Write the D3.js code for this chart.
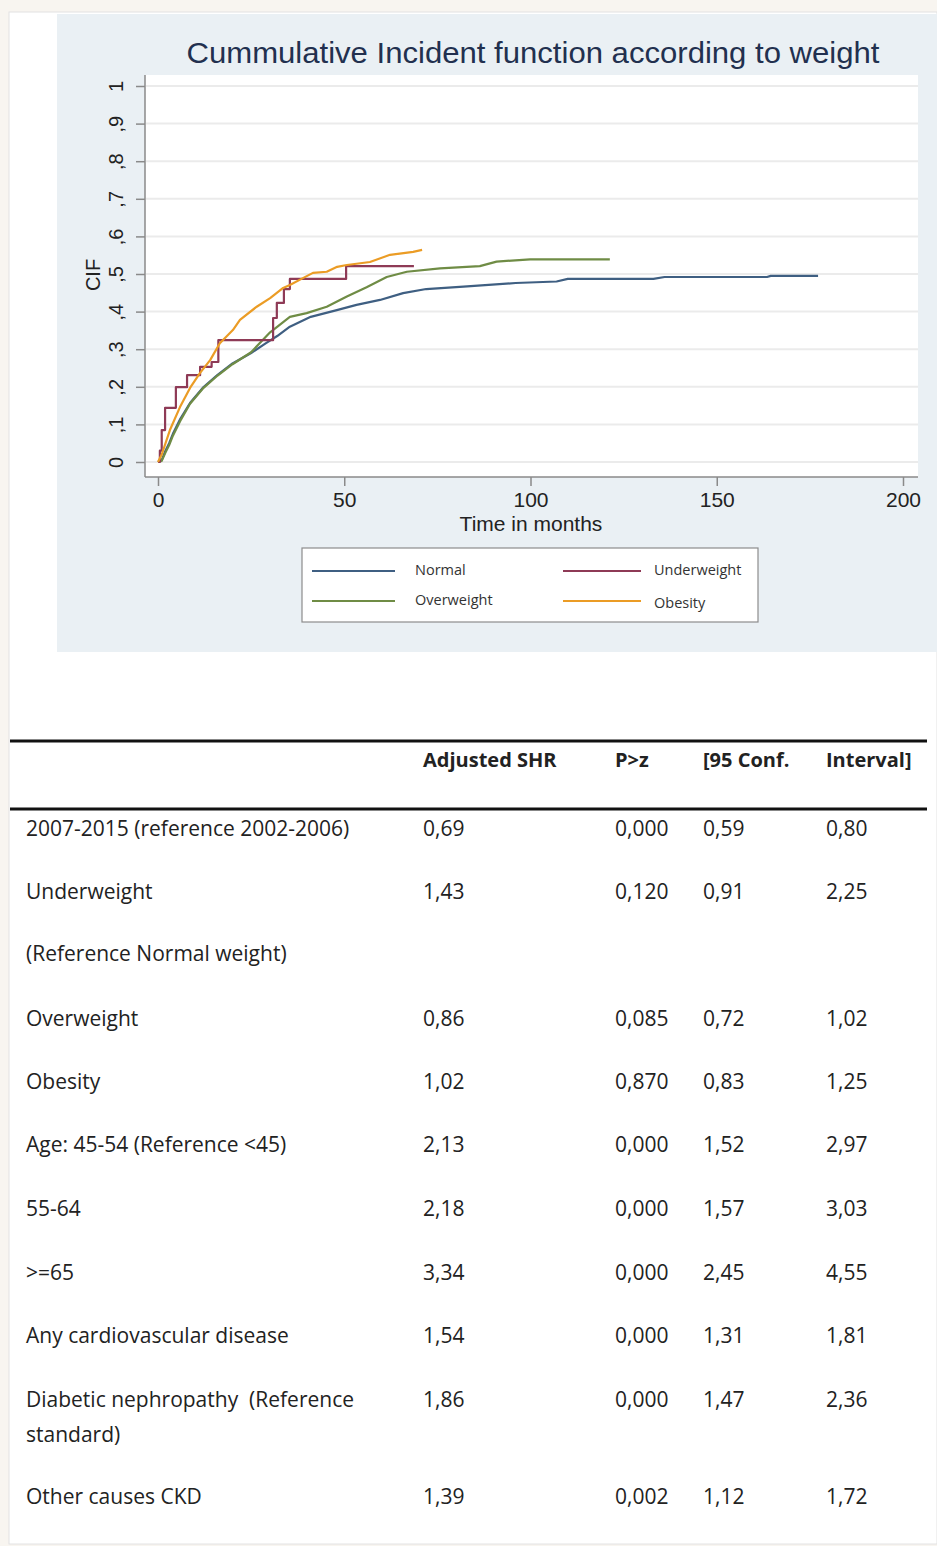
<!DOCTYPE html>
<html><head><meta charset="utf-8">
<script src="https://cdn.jsdelivr.net/npm/d3@7"></script>
<style>body{margin:0;background:#f8f5f0;}svg{display:block;}</style>
</head><body>
<svg id="c" width="937" height="1546"></svg>
<script>
// ---------- data ----------
const chartTitle = "Cummulative Incident function according to weight";
const xTicks = [0, 50, 100, 150, 200];
const yTicks = [0, 0.1, 0.2, 0.3, 0.4, 0.5, 0.6, 0.7, 0.8, 0.9, 1];
const yTickLabels = ["0", ",1", ",2", ",3", ",4", ",5", ",6", ",7", ",8", ",9", "1"];
const seriesNames = ["Normal", "Underweight", "Overweight", "Obesity"];
const seriesColors = ["#3f5f82", "#8e3a56", "#6f8c45", "#eb9c25"];

const normalT = [0,1,2,3,4,6,8.6,12,16,20,25,29,32,35.4,41,48,53.3,59.6,65.8,72,83,96,107,110,133,136,163.5,164.5,177.2];
const normalV = [0,0.005,0.03,0.05,0.075,0.115,0.157,0.197,0.232,0.262,0.29,0.316,0.335,0.36,0.386,0.404,0.418,0.431,0.449,0.46,0.467,0.476,0.48,0.487,0.487,0.492,0.492,0.495,0.495];

const underT = [0,0.5,1.0,1.9,4.8,7.8,11.3,14.4,16.2,30.9,31.9,33.8,35.4,50.5,68.7];
const underV = [0,0.03,0.085,0.144,0.199,0.231,0.253,0.266,0.324,0.383,0.423,0.46,0.487,0.521,0.521];

const overT = [0,1,2,3,4,6,8.6,12,16,20,25,30.1,35.4,39.9,45.3,50.7,56,61.4,66.8,75.7,86.4,90.9,99.9,121.3];
const overV = [0,0.003,0.025,0.045,0.07,0.11,0.155,0.195,0.23,0.26,0.292,0.345,0.386,0.396,0.413,0.44,0.465,0.492,0.506,0.515,0.521,0.533,0.539,0.539];

const obeseT = [0,1,3.2,5.9,8.6,11.3,14,16.6,20.1,22,26.5,30.1,33.6,35.4,38.9,41.6,45.3,48.1,50.7,56.9,62.3,68.5,70.9];
const obeseV = [0,0.02,0.085,0.146,0.197,0.237,0.271,0.316,0.351,0.378,0.413,0.436,0.463,0.471,0.489,0.503,0.506,0.519,0.524,0.532,0.551,0.559,0.564];

const tableHeaders = ["", "Adjusted SHR", "P>z", "[95 Conf.", "Interval]"];
const rowLabels = [
  ["2007-2015 (reference 2002-2006)"],
  ["Underweight"],
  ["(Reference Normal weight)"],
  ["Overweight"],
  ["Obesity"],
  ["Age: 45-54 (Reference <45)"],
  ["55-64"],
  [">=65"],
  ["Any cardiovascular disease"],
  ["Diabetic nephropathy  (Reference", "standard)"],
  ["Other causes CKD"]
];
const shrValues = ["0,69","1,43","","0,86","1,02","2,13","2,18","3,34","1,54","1,86","1,39"];
const pValues   = ["0,000","0,120","","0,085","0,870","0,000","0,000","0,000","0,000","0,000","0,002"];
const ciLow     = ["0,59","0,91","","0,72","0,83","1,52","1,57","2,45","1,31","1,47","1,12"];
const ciHigh    = ["0,80","2,25","","1,02","1,25","2,97","3,03","4,55","1,81","2,36","1,72"];

// ---------- drawing ----------
const svg = d3.select("#c");
svg.append("rect").attr("x",9).attr("y",12).attr("width",928).attr("height",1532)
  .attr("fill","#ffffff").attr("stroke","#e2e2e2").attr("stroke-width",1);
// graph panel
svg.append("rect").attr("x",57).attr("y",14).attr("width",880).attr("height",638).attr("fill","#eaf0f4");
// plot region
svg.append("rect").attr("x",145).attr("y",75).attr("width",773).attr("height",402).attr("fill","#ffffff");

const x = d3.scaleLinear().domain([0,200]).range([158,903]);
const y = d3.scaleLinear().domain([0,1]).range([462,86]);

// title
svg.append("text").attr("x",533).attr("y",63).attr("text-anchor","middle")
  .attr("font-family","Liberation Sans, Arial, sans-serif").attr("font-size",29)
  .attr("fill","#22304f").attr("textLength",693).attr("lengthAdjust","spacingAndGlyphs")
  .text(chartTitle);

// gridlines
svg.append("g").selectAll("line").data(yTicks).join("line")
  .attr("x1",146).attr("x2",918).attr("y1",d=>y(d)).attr("y2",d=>y(d))
  .attr("stroke","#ebebeb").attr("stroke-width",2);

// y axis
const yAxis = svg.append("g").attr("transform","translate(145,0)")
  .call(d3.axisLeft(y).tickValues(yTicks).tickSize(9).tickPadding(14)
    .tickFormat((d,i)=>yTickLabels[i]));
yAxis.select(".domain").attr("d","M0,75V477").attr("stroke","#8a8a8a").attr("stroke-width",1.5);
yAxis.selectAll(".tick line").attr("stroke","#8a8a8a").attr("stroke-width",1.5);
yAxis.selectAll(".tick text")
  .attr("font-family","Liberation Sans, Arial, sans-serif").attr("font-size",20).attr("fill","#222")
  .attr("text-anchor","middle").attr("dy",null).attr("x",null)
  .attr("transform","translate(-27,0) rotate(-90)").attr("dominant-baseline","middle");

// x axis
const xAxis = svg.append("g").attr("transform","translate(0,477)")
  .call(d3.axisBottom(x).tickValues(xTicks).tickSize(9).tickPadding(6).tickFormat(d3.format("d")));
xAxis.select(".domain").attr("d","M145,0H918").attr("stroke","#8a8a8a").attr("stroke-width",1.5);
xAxis.selectAll(".tick line").attr("stroke","#8a8a8a").attr("stroke-width",1.5);
xAxis.selectAll(".tick text").attr("font-family","Liberation Sans, Arial, sans-serif")
  .attr("font-size",21).attr("fill","#222");

// axis titles
svg.append("text").attr("x",531).attr("y",531).attr("text-anchor","middle")
  .attr("font-family","Liberation Sans, Arial, sans-serif").attr("font-size",21).attr("fill","#222")
  .text("Time in months");
svg.append("text").attr("transform","translate(100,275) rotate(-90)").attr("text-anchor","middle")
  .attr("font-family","Liberation Sans, Arial, sans-serif").attr("font-size",20).attr("fill","#222")
  .text("CIF");

// curves
const series = [
  {t: normalT, v: normalV, curve: d3.curveLinear},
  {t: underT, v: underV, curve: d3.curveStepAfter},
  {t: overT, v: overV, curve: d3.curveLinear},
  {t: obeseT, v: obeseV, curve: d3.curveLinear}
];
const drawOrder = [0, 2, 1, 3];
drawOrder.forEach(i => {
  const s = series[i];
  const pts = s.t.map((t,j)=>[t, s.v[j]]);
  svg.append("path").datum(pts)
    .attr("d", d3.line().x(d=>x(d[0])).y(d=>y(d[1])).curve(s.curve))
    .attr("fill","none").attr("stroke",seriesColors[i]).attr("stroke-width",2.2)
    .attr("stroke-linejoin","round");
});

// legend
svg.append("rect").attr("x",302).attr("y",548).attr("width",456).attr("height",74)
  .attr("fill","#ffffff").attr("stroke","#8c8c8c").attr("stroke-width",1.2);
const legPos = [[312,571],[563,571],[312,601],[563,601]];
seriesNames.forEach((n,i)=>{
  const [lx,ly] = legPos[i];
  svg.append("line").attr("x1",lx).attr("x2",lx+(i%2?78:83)).attr("y1",ly).attr("y2",ly)
    .attr("stroke",seriesColors[i]).attr("stroke-width",2);
  svg.append("text").attr("x",lx+(i%2?91:103)).attr("y",ly+(i===3?3:0)).attr("dominant-baseline","middle")
    .attr("font-family","Open Sans, sans-serif").attr("font-size",14.5).attr("fill","#333").text(n);
});

// table
const tFont = "Open Sans, sans-serif";
const tSize = 21;
const colX = [26, 423, 615, 703, 826];
svg.append("line").attr("x1",10).attr("x2",927).attr("y1",741).attr("y2",741).attr("stroke","#111").attr("stroke-width",3);
svg.append("line").attr("x1",10).attr("x2",927).attr("y1",809).attr("y2",809).attr("stroke","#111").attr("stroke-width",3);
tableHeaders.forEach((h,i)=>{
  svg.append("text").attr("x",colX[i]).attr("y",762).attr("dominant-baseline","middle")
    .attr("font-family",tFont).attr("font-weight","bold").attr("font-size",20).attr("fill","#222").text(h);
});
const rowY = [830, 893, 955, 1020, 1083, 1146, 1210, 1274, 1337, 1401, 1498];
rowLabels.forEach((lines,r)=>{
  lines.forEach((ln,k)=>{
    svg.append("text").attr("x",colX[0]).attr("y",rowY[r]+k*35).attr("dominant-baseline","middle")
      .style("white-space","pre")
      .attr("font-family",tFont).attr("font-size",tSize).attr("fill","#222").text(ln);
  });
  [shrValues, pValues, ciLow, ciHigh].forEach((col,c)=>{
    svg.append("text").attr("x",colX[c+1]).attr("y",rowY[r]).attr("dominant-baseline","middle")
      .attr("font-family",tFont).attr("font-size",tSize).attr("fill","#222").text(col[r]);
  });
});
</script>
</body></html>
